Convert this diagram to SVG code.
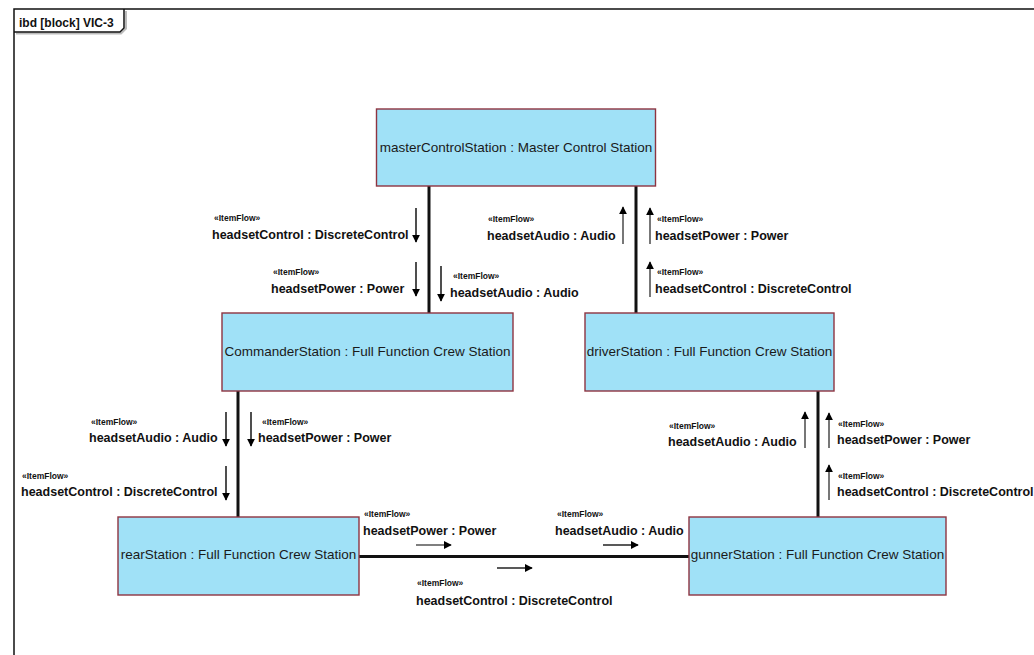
<svg xmlns="http://www.w3.org/2000/svg" width="1034" height="655" viewBox="0 0 1034 655">
  <defs>
    <marker id="head" viewBox="0 0 10 10" refX="9" refY="5" markerWidth="8" markerHeight="8" markerUnits="userSpaceOnUse" orient="auto">
      <path d="M0,0 L10,5 L0,10 Z" fill="#000"/>
    </marker>
    <style>
      .block { fill: #a0e1f7; stroke: #8e3440; stroke-width: 1.4; }
      .shadow { fill: none; stroke: #b9a7ab; stroke-width: 1.2; }
      .name { font-family: "Liberation Sans", Arial, sans-serif; font-size: 13.5px; fill: #1a1a1a; text-anchor: middle; }
      .link { stroke: #111; stroke-width: 3; fill: none; }
      .flow { stroke: #222; stroke-width: 1.6; fill: none; marker-end: url(#head); }
      .flow.up { stroke: #555; }
      .st { font-family: "Liberation Sans", Arial, sans-serif; font-size: 8.5px; font-weight: bold; fill: #111; }
      .lbl { font-family: "Liberation Sans", Arial, sans-serif; font-size: 12.5px; font-weight: bold; fill: #111; }
      .frame { fill: none; stroke: #111; stroke-width: 1.5; }
      .title { font-family: "Liberation Sans", Arial, sans-serif; font-size: 12px; font-weight: bold; fill: #111; }
    </style>
  </defs>

  <rect width="1034" height="655" fill="#fff"/>

  <!-- diagram frame with name tab -->
  <g id="frame">
    <path class="frame" d="M14,655 L14,9 L1034,9"/>
    <path d="M16,33.5 L121,33.5 L126,28.5 L126,11" fill="none" stroke="#bbb" stroke-width="2"/>
    <path class="frame" d="M14,32 L120,32 L124,28 L124,9"/>
    <text class="title" x="19" y="27">ibd [block] VIC-3</text>
  </g>

  <!-- connectors between parts -->
  <g id="connectors">
    <line class="link" x1="429" y1="186" x2="429" y2="313"/>
    <line class="link" x1="636" y1="186" x2="636" y2="313"/>
    <line class="link" x1="238" y1="391" x2="238" y2="517"/>
    <line class="link" x1="818" y1="391" x2="818" y2="517"/>
    <line class="link" x1="359" y1="556.5" x2="689" y2="556.5"/>
  </g>

  <!-- parts -->
  <g id="masterControlStation">
    <rect class="block" x="376.5" y="109" width="279" height="77"/>
    <text class="name" x="516" y="152">masterControlStation : Master Control Station</text>
  </g>
  <g id="CommanderStation">
    <rect class="block" x="222" y="313" width="291" height="78"/>
    <text class="name" x="367.5" y="356">CommanderStation : Full Function Crew Station</text>
  </g>
  <g id="driverStation">
    <rect class="block" x="585" y="313" width="249" height="78"/>
    <text class="name" x="709.5" y="356">driverStation : Full Function Crew Station</text>
  </g>
  <g id="rearStation">
    <rect class="block" x="118" y="517" width="241" height="78"/>
    <text class="name" x="238.5" y="559">rearStation : Full Function Crew Station</text>
  </g>
  <g id="gunnerStation">
    <rect class="block" x="689" y="517" width="257" height="78"/>
    <text class="name" x="817.5" y="559">gunnerStation : Full Function Crew Station</text>
  </g>

  <!-- item flows: master to commander -->
  <g id="flows-master-commander">
    <line class="flow" x1="416" y1="208" x2="416" y2="242"/>
    <text class="st" x="214" y="221">«ItemFlow»</text>
    <text class="lbl" x="212" y="239">headsetControl : DiscreteControl</text>
    <line class="flow" x1="416" y1="262" x2="416" y2="296"/>
    <text class="st" x="273" y="275">«ItemFlow»</text>
    <text class="lbl" x="271" y="293">headsetPower : Power</text>
    <line class="flow" x1="441" y1="266" x2="441" y2="301"/>
    <text class="st" x="453" y="279">«ItemFlow»</text>
    <text class="lbl" x="450" y="297">headsetAudio : Audio</text>
  </g>

  <!-- item flows: driver to master -->
  <g id="flows-driver-master">
    <line class="flow up" x1="623" y1="244" x2="623" y2="207"/>
    <text class="st" x="488" y="222">«ItemFlow»</text>
    <text class="lbl" x="487" y="240">headsetAudio : Audio</text>
    <line class="flow up" x1="650" y1="244" x2="650" y2="208"/>
    <text class="st" x="657" y="222">«ItemFlow»</text>
    <text class="lbl" x="655" y="240">headsetPower : Power</text>
    <line class="flow up" x1="650" y1="297" x2="650" y2="262"/>
    <text class="st" x="657" y="275">«ItemFlow»</text>
    <text class="lbl" x="655" y="293">headsetControl : DiscreteControl</text>
  </g>

  <!-- item flows: commander to rear -->
  <g id="flows-commander-rear">
    <line class="flow" x1="226" y1="412" x2="226" y2="446"/>
    <text class="st" x="91" y="425">«ItemFlow»</text>
    <text class="lbl" x="89" y="442">headsetAudio : Audio</text>
    <line class="flow" x1="251" y1="412" x2="251" y2="446"/>
    <text class="st" x="262" y="425">«ItemFlow»</text>
    <text class="lbl" x="258" y="442">headsetPower : Power</text>
    <line class="flow" x1="226" y1="466" x2="226" y2="500"/>
    <text class="st" x="22" y="479">«ItemFlow»</text>
    <text class="lbl" x="21" y="496">headsetControl : DiscreteControl</text>
  </g>

  <!-- item flows: gunner to driver -->
  <g id="flows-gunner-driver">
    <line class="flow up" x1="805" y1="448" x2="805" y2="412"/>
    <text class="st" x="669" y="429">«ItemFlow»</text>
    <text class="lbl" x="668" y="446">headsetAudio : Audio</text>
    <line class="flow up" x1="829" y1="448" x2="829" y2="413"/>
    <text class="st" x="838" y="427">«ItemFlow»</text>
    <text class="lbl" x="837" y="444">headsetPower : Power</text>
    <line class="flow up" x1="829" y1="500" x2="829" y2="465"/>
    <text class="st" x="838" y="479">«ItemFlow»</text>
    <text class="lbl" x="837" y="496">headsetControl : DiscreteControl</text>
  </g>

  <!-- item flows: rear to gunner -->
  <g id="flows-rear-gunner">
    <line class="flow up" x1="416" y1="545" x2="451" y2="545"/>
    <text class="st" x="364" y="517">«ItemFlow»</text>
    <text class="lbl" x="363" y="535">headsetPower : Power</text>
    <line class="flow" x1="603" y1="545" x2="638" y2="545"/>
    <text class="st" x="557" y="517">«ItemFlow»</text>
    <text class="lbl" x="555" y="535">headsetAudio : Audio</text>
    <line class="flow" x1="497" y1="568" x2="532" y2="568"/>
    <text class="st" x="417" y="586">«ItemFlow»</text>
    <text class="lbl" x="416" y="605">headsetControl : DiscreteControl</text>
  </g>
</svg>
